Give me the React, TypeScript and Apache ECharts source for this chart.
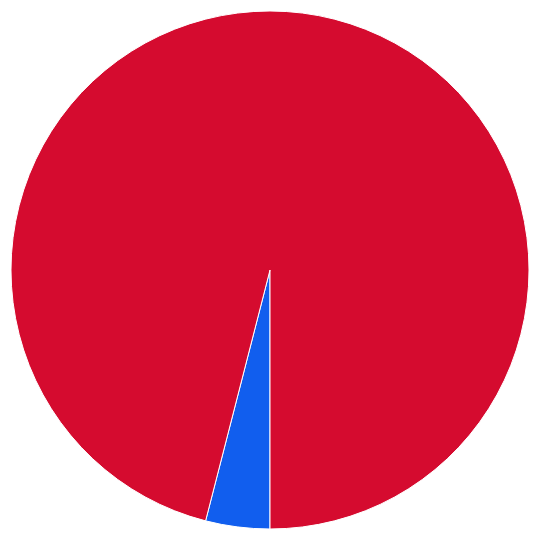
import React, { useRef, useEffect } from "react";
import * as echarts from "echarts";

const categories = ["Blue", "Red"];
const values = [4, 96];
const colors = ["#115eee", "#d50b2f"];

export default function App() {
  const chartRef = useRef<HTMLDivElement>(null);

  useEffect(() => {
    if (!chartRef.current) return;
    const chart = echarts.init(chartRef.current, null, { renderer: "svg" });

    chart.setOption({
      animation: false,
      series: [
        {
          type: "pie",
          center: [270, 270],
          radius: 259,
          startAngle: -90,
          clockwise: true,
          label: { show: false },
          labelLine: { show: false },
          itemStyle: { borderColor: "#ffffff", borderWidth: 1 },
          data: categories.map((name, i) => ({
            name,
            value: values[i],
            itemStyle: { color: colors[i] },
          })),
        },
      ],
    });

    return () => chart.dispose();
  }, []);

  return (
    <div
      ref={chartRef}
      style={{ position: "fixed", left: 0, top: 0, width: 540, height: 540 }}
    />
  );
}
